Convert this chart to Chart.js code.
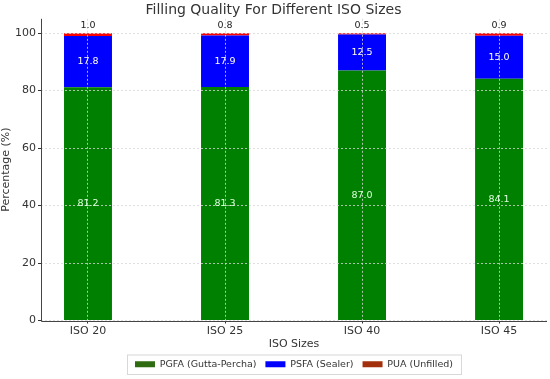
<!DOCTYPE html>
<html>
<head>
<meta charset="utf-8">
<script src="https://cdn.jsdelivr.net/npm/chart.js@4"></script>
<style>
  html, body { margin: 0; padding: 0; background: #fff; }
  #wrap { position: relative; width: 550px; height: 379px; }
</style>
</head>
<body>
<div id="wrap"><canvas id="chart"></canvas></div>
<script>
const categories = ["ISO 20", "ISO 25", "ISO 40", "ISO 45"]
const pgfa = [81.2, 81.3, 87.0, 84.1]
const psfa = [17.8, 17.9, 12.5, 15.0]
const pua = [1.0, 0.8, 0.5, 0.9]
const yTicks = [0, 20, 40, 60, 80, 100]

const FONT = "'DejaVu Sans', sans-serif"
const toPoints = (arr) => arr.map((v, i) => ({ x: i, y: v }))

// value labels: inside green / blue, above the red cap (drawn last, over the grid)
const valueLabels = {
  id: "valueLabels",
  afterDraw(chart) {
    const ctx = chart.ctx
    ctx.save()
    ctx.font = "9.5px " + FONT
    ctx.textAlign = "center"
    ctx.textBaseline = "middle"
    chart.data.datasets.forEach((ds, di) => {
      const meta = chart.getDatasetMeta(di)
      meta.data.forEach((bar, i) => {
        const v = ds.data[i].y
        if (di === 2) {
          ctx.fillStyle = "#222"
          ctx.fillText(v.toFixed(1), bar.x, bar.y - 8)
        } else {
          ctx.fillStyle = di === 0 ? "#dfffdf" : "#ffffff"
          ctx.fillText(v.toFixed(1), bar.x, (bar.y + bar.base) / 2)
        }
      })
    })
    ctx.restore()
  },
}

// solid left + bottom spines and a thin frame round the legend
const frames = {
  id: "frames",
  afterDraw(chart) {
    const ctx = chart.ctx
    const a = chart.chartArea
    ctx.save()
    ctx.setLineDash([])
    ctx.strokeStyle = "#444"
    ctx.lineWidth = 1
    ctx.beginPath()
    ctx.moveTo(Math.round(a.left) + 0.5, a.top)
    ctx.lineTo(Math.round(a.left) + 0.5, Math.round(a.bottom) + 0.5)
    ctx.lineTo(a.right, Math.round(a.bottom) + 0.5)
    ctx.stroke()

    const boxes = chart.legend && chart.legend.legendHitBoxes
    if (boxes && boxes.length) {
      const left = Math.min(...boxes.map((b) => b.left)) - 8
      const right = Math.max(...boxes.map((b) => b.left + b.width)) + 8
      const top = Math.min(...boxes.map((b) => b.top)) - 5
      const bottom = Math.max(...boxes.map((b) => b.top + b.height)) + 5
      ctx.strokeStyle = "#d8d8d8"
      ctx.strokeRect(left + 0.5, top + 0.5, right - left, bottom - top)
    }
    ctx.restore()
  },
}

const swatches = ["#2f6b10", "#0000ff", "#a3300c"]

new Chart(document.getElementById("chart"), {
  type: "bar",
  data: {
    datasets: [
      { label: "PGFA (Gutta-Percha)", data: toPoints(pgfa), backgroundColor: "#008000" },
      { label: "PSFA (Sealer)", data: toPoints(psfa), backgroundColor: "#0000ff" },
      { label: "PUA (Unfilled)", data: toPoints(pua), backgroundColor: "#ff0000" },
    ],
  },
  options: {
    responsive: true,
    maintainAspectRatio: false,
    animation: false,
    layout: { padding: { top: 0, right: 3, bottom: 0, left: 0 } },
    datasets: { bar: { categoryPercentage: 1, barPercentage: 0.35 } },
    plugins: {
      tooltip: { enabled: false },
      title: {
        display: true,
        text: "Filling Quality For Different ISO Sizes",
        color: "#333",
        font: { family: FONT, size: 14, weight: "normal" },
        padding: { top: 2, bottom: 0 },
      },
      legend: {
        position: "bottom",
        fullSize: false,
        labels: {
          color: "#333",
          font: { family: FONT, size: 9.5 },
          boxWidth: 20,
          boxHeight: 6,
          padding: 9,
          generateLabels: (chart) =>
            chart.data.datasets.map((ds, i) => ({
              text: ds.label,
              fillStyle: swatches[i],
              strokeStyle: swatches[i],
              lineWidth: 0,
              datasetIndex: i,
              fontColor: "#333",
            })),
        },
      },
    },
    scales: {
      x: {
        type: "linear",
        stacked: true,
        offset: false,
        min: -0.343,
        max: 3.35,
        afterBuildTicks: (axis) => {
          axis.ticks = categories.map((_, i) => ({ value: i }))
        },
        afterFit: (axis) => {
          axis.height = 30
        },
        ticks: {
          color: "#333",
          font: { family: FONT, size: 11 },
          padding: 1,
          callback: (v) => categories[v],
        },
        grid: { z: 1, offset: false, color: "rgba(215,215,215,0.8)", tickLength: 3, tickColor: "#333" },
        border: { z: 1, display: false, dash: [2, 2] },
        title: {
          display: true,
          text: "ISO Sizes",
          color: "#333",
          font: { family: FONT, size: 11 },
          padding: { top: 0, bottom: 0 },
        },
      },
      y: {
        stacked: true,
        min: 0,
        max: 105,
        afterBuildTicks: (axis) => {
          axis.ticks = yTicks.map((v) => ({ value: v }))
        },
        afterFit: (axis) => {
          axis.width = 41
        },
        ticks: {
          color: "#333",
          font: { family: FONT, size: 11 },
          padding: 2,
        },
        grid: { z: 1, color: "rgba(215,215,215,0.8)", tickLength: 3, tickColor: "#333" },
        border: { z: 1, display: false, dash: [2, 2] },
        title: {
          display: true,
          text: "Percentage (%)",
          color: "#333",
          font: { family: FONT, size: 11 },
          padding: { top: 0, bottom: 0 },
        },
      },
    },
  },
  plugins: [valueLabels, frames],
})
</script>
</body>
</html>
